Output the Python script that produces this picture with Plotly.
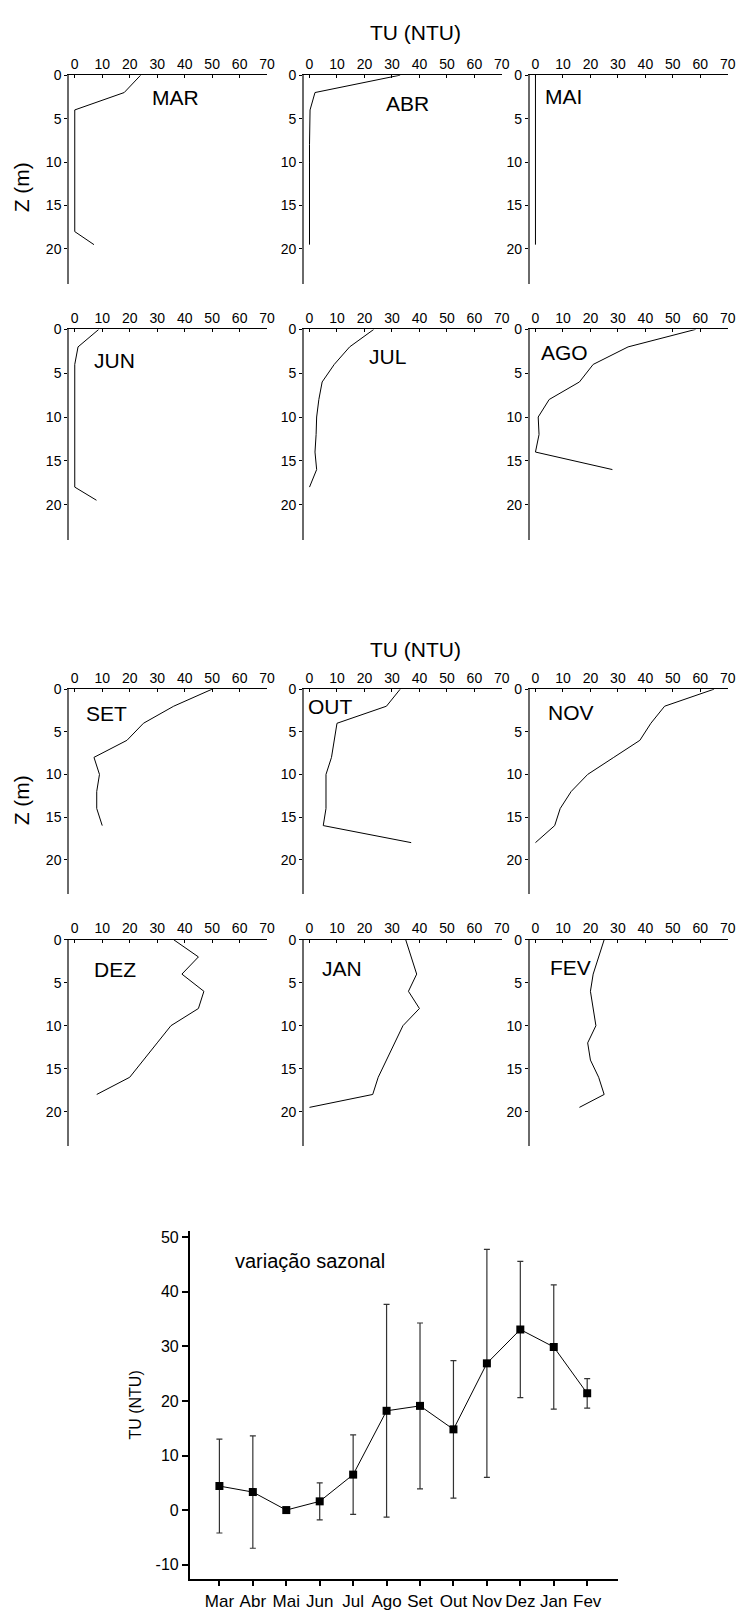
import plotly.graph_objects as go

# ---------------- data ----------------
panel_names = ["MAR", "ABR", "MAI", "JUN", "JUL", "AGO", "SET", "OUT", "NOV", "DEZ", "JAN", "FEV"]

mar_depth = [0, 2, 4, 6, 8, 10, 12, 14, 16, 18, 19.5]
mar_tu = [24, 18, 0, 0, 0, 0, 0, 0, 0, 0, 7]
abr_depth = [0, 2, 4, 6, 8, 10, 12, 14, 16, 18, 19.5]
abr_tu = [33, 2, 0.2, 0, 0, 0, 0, 0, 0, 0, 0]
mai_depth = [0, 2, 4, 6, 8, 10, 12, 14, 16, 18, 19.5]
mai_tu = [0, 0, 0, 0, 0, 0, 0, 0, 0, 0, 0]
jun_depth = [0, 2, 4, 6, 8, 10, 12, 14, 16, 18, 19.5]
jun_tu = [8.75, 1.2, 0, 0, 0, 0, 0, 0, 0, 0, 7.9]
jul_depth = [0, 2, 4, 6, 8, 10, 12, 14, 16, 18]
jul_tu = [23.4, 14.6, 9, 4.6, 3.4, 2.6, 2.4, 2, 2.6, 0]
ago_depth = [0, 2, 4, 6, 8, 10, 12, 14, 16]
ago_tu = [58.3, 33.7, 21, 16, 5, 1, 1.3, 0, 28]
set_depth = [0, 2, 4, 6, 8, 10, 12, 14, 16]
set_tu = [50, 36, 25, 19, 7, 9, 8, 8, 10]
out_depth = [0, 2, 4, 6, 8, 10, 12, 14, 16, 18]
out_tu = [33, 28, 10, 9, 8, 6, 6, 6, 5, 37]
nov_depth = [0, 2, 4, 6, 8, 10, 12, 14, 16, 18]
nov_tu = [65, 47, 42, 38, 28.5, 19, 13, 9, 7, 0]
dez_depth = [0, 2, 4, 6, 8, 10, 12, 14, 16, 18]
dez_tu = [36, 45, 39, 47, 45, 35, 30, 25, 20, 8]
jan_depth = [0, 2, 4, 6, 8, 10, 12, 14, 16, 18, 19.5]
jan_tu = [35, 37, 39, 36, 40, 34, 31, 28, 25, 23, 0]
fev_depth = [0, 2, 4, 6, 8, 10, 12, 14, 16, 18, 19.5]
fev_tu = [25, 23, 21, 20, 21, 22, 19, 20, 23, 25, 16]

profile_depths = [mar_depth, abr_depth, mai_depth, jun_depth, jul_depth, ago_depth,
                  set_depth, out_depth, nov_depth, dez_depth, jan_depth, fev_depth]
profile_tu = [mar_tu, abr_tu, mai_tu, jun_tu, jul_tu, ago_tu,
              set_tu, out_tu, nov_tu, dez_tu, jan_tu, fev_tu]

tu_ticks = [0, 10, 20, 30, 40, 50, 60, 70]
z_ticks = [0, 5, 10, 15, 20]

season_months = ["Mar", "Abr", "Mai", "Jun", "Jul", "Ago", "Set", "Out", "Nov", "Dez", "Jan", "Fev"]
season_mean = [4.4, 3.3, 0, 1.6, 6.5, 18.2, 19.1, 14.8, 26.9, 33.1, 29.9, 21.4]
season_sd = [8.6, 10.3, 0, 3.4, 7.3, 19.5, 15.2, 12.6, 20.9, 12.5, 11.4, 2.7]
season_yticks = [-10, 0, 10, 20, 30, 40, 50]
season_yticktext = ["-10", "0", "10", "20", "30", "40", "50"]

# label positions (data coords) for month names in each panel
label_pos = [(36.5, 2.6), (35.8, 3.3), (10.3, 2.5), (14.4, 3.5), (28.5, 3.1), (10.4, 2.6),
             (11.7, 2.9), (7.5, 2.0), (12.9, 2.7), (14.7, 3.5), (12.0, 3.3), (12.6, 3.2)]

# ---------------- layout geometry (pixels) ----------------
W, H = 747, 1611
FONT = "Liberation Sans, Arial, sans-serif"


def xd(a, b):
    return [a / W, b / W]


def yd(top, bot):
    return [1 - bot / H, 1 - top / H]


cols = [(70, 270), (307.3, 507.3), (535.7, 735.7)]
rows = [(67.7, 278), (324, 536), (686.7, 893), (939.3, 1147.3)]

fig = go.Figure()
layout = dict(
    width=W, height=H, margin=dict(l=0, r=0, t=0, b=0),
    paper_bgcolor="white", plot_bgcolor="white",
    showlegend=False, font=dict(family=FONT, color="black"),
)
annotations = []

for i, name in enumerate(panel_names):
    n = i + 1
    r, c = divmod(i, 3)
    xs = "x" if n == 1 else f"x{n}"
    ys = "y" if n == 1 else f"y{n}"
    fig.add_trace(go.Scatter(
        x=profile_tu[i], y=profile_depths[i], mode="lines",
        line=dict(color="black", width=1), xaxis=xs, yaxis=ys,
        hoverinfo="skip",
    ))
    layout[f"xaxis{'' if n == 1 else n}"] = dict(
        domain=xd(*cols[c]), range=[-2, 70], side="top", anchor=ys,
        showline=True, linecolor="black", linewidth=1,
        ticks="inside", ticklen=3, tickcolor="black", tickwidth=1,
        tickvals=tu_ticks, tickfont=dict(size=14, family=FONT),
        showgrid=False, zeroline=False, fixedrange=True,
    )
    layout[f"yaxis{'' if n == 1 else n}"] = dict(
        domain=yd(*rows[r]), range=[24, 0], anchor=xs,
        showline=True, linecolor="#6a6a6a", linewidth=2,
        ticks="outside", ticklen=3, tickcolor="black", tickwidth=1,
        tickvals=z_ticks, tickfont=dict(size=14, family=FONT),
        showgrid=False, zeroline=False, fixedrange=True,
    )
    annotations.append(dict(
        x=label_pos[i][0], y=label_pos[i][1], xref=xs, yref=ys,
        text=name, showarrow=False, font=dict(size=21, family=FONT, color="black"),
        xanchor="center", yanchor="middle",
    ))

# axis titles for the profile blocks
for (px, py) in [(420, 25), (420, 647)]:
    annotations.append(dict(
        x=px / W, y=1 - py / H, xref="paper", yref="paper", text="TU (NTU)",
        showarrow=False, font=dict(size=21, family=FONT), xanchor="center", yanchor="middle",
    ))
for (px, py) in [(22, 181), (22, 799)]:
    annotations.append(dict(
        x=px / W, y=1 - py / H, xref="paper", yref="paper", text="Z (m)", textangle=-90,
        showarrow=False, font=dict(size=21, family=FONT), xanchor="center", yanchor="middle",
    ))

# ---------------- seasonal chart ----------------
fig.add_trace(go.Scatter(
    x=season_months, y=season_mean, mode="lines+markers",
    line=dict(color="black", width=1),
    marker=dict(symbol="square", size=8, color="black"),
    error_y=dict(type="data", array=season_sd, visible=True, color="#333333",
                 thickness=1.2, width=3),
    xaxis="x13", yaxis="y13", hoverinfo="skip",
))
layout["xaxis13"] = dict(
    domain=xd(191.7, 624.3), range=[-0.89, 11.91], anchor="y13", type="category",
    showline=True, linecolor="black", linewidth=1.5,
    ticks="outside", ticklen=6, tickcolor="black", tickwidth=1.5,
    tickfont=dict(size=17, family=FONT), showgrid=False, zeroline=False, fixedrange=True,
)
layout["yaxis13"] = dict(
    domain=yd(1233.3, 1583.3), range=[-12.55, 51.1], anchor="x13",
    showline=True, linecolor="black", linewidth=1.5,
    ticks="outside", ticklen=6, tickcolor="black", tickwidth=1.5,
    tickvals=season_yticks, ticktext=season_yticktext,
    tickfont=dict(size=16, family=FONT), showgrid=False, zeroline=False, fixedrange=True,
    title=dict(text="TU (NTU)", font=dict(size=16, family=FONT), standoff=10),
)
annotations.append(dict(
    x=2.71, y=45.6, xref="x13", yref="y13", text="variação sazonal", showarrow=False,
    font=dict(size=20, family=FONT), xanchor="center", yanchor="middle",
))

layout["annotations"] = annotations
fig.update_layout(**layout)
fig.write_html(
    "out.html",
    config={"displayModeBar": False},
    post_script="document.body.style.margin='0';document.body.style.overflow='hidden';",
)
